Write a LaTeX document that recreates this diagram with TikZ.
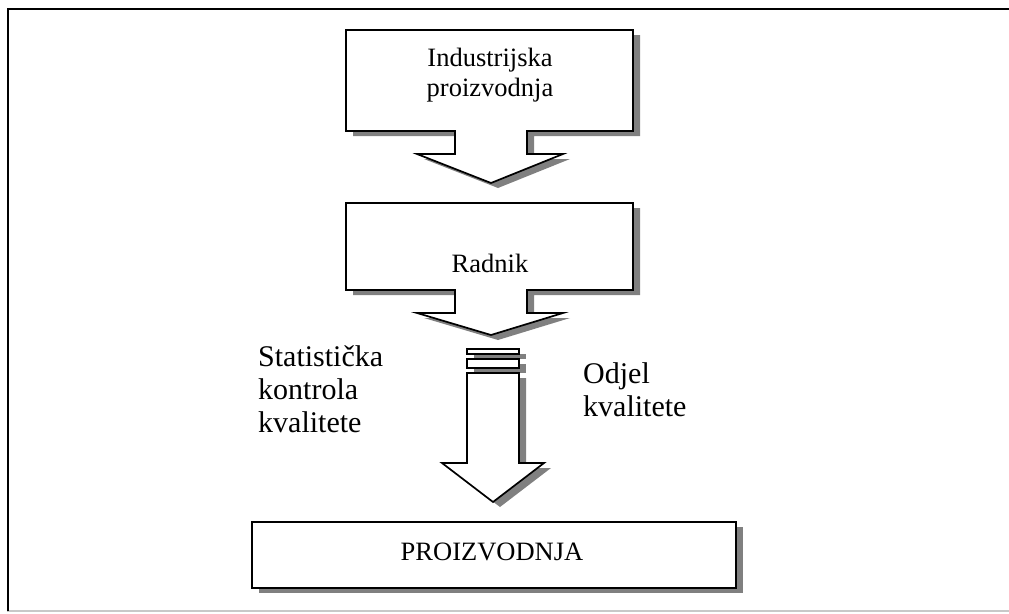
\documentclass[tikz,border=0pt]{standalone}
\usepackage{fontspec}
\setmainfont{Liberation Serif}
\definecolor{shadowgray}{HTML}{808080}
\definecolor{framegray}{HTML}{C8C8C8}
\begin{document}
\begin{tikzpicture}[x=1pt,y=-1pt,
  shapeline/.style={draw=black,line width=1.7pt,fill=white,line join=miter},
  shadowfill/.style={fill=shadowgray,draw=none},
  txt/.style={inner sep=0pt,font=\fontsize{26.5}{30}\selectfont},
  lbl/.style={inner sep=0pt,font=\fontsize{30}{33}\selectfont,anchor=base west,align=left}]
\useasboundingbox (0,0) rectangle (1009,613);
% frame
\draw[framegray,line width=1.5pt] (7,611) -- (1009,611);
\draw[black,line width=2pt] (8,611) -- (8,9) -- (1009,9);
% callout 1
\begin{scope}[shift={(7,5)}]
\fill[shadowfill] (346,30) -- (633,30) -- (633,131) -- (527,131) -- (527,154) -- (563,154) -- (491,183) -- (417,154) -- (455,154) -- (455,131) -- (346,131) -- cycle;
\end{scope}
\draw[shapeline] (346,30) -- (633,30) -- (633,131) -- (527,131) -- (527,154) -- (563,154) -- (491,183) -- (417,154) -- (455,154) -- (455,131) -- (346,131) -- cycle;
% callout 2
\begin{scope}[shift={(7,5)}]
\fill[shadowfill] (346,203) -- (633,203) -- (633,290) -- (527,290) -- (527,313) -- (563,313) -- (491,335) -- (417,313) -- (455,313) -- (455,290) -- (346,290) -- cycle;
\end{scope}
\draw[shapeline] (346,203) -- (633,203) -- (633,290) -- (527,290) -- (527,313) -- (563,313) -- (491,335) -- (417,313) -- (455,313) -- (455,290) -- (346,290) -- cycle;
% striped arrow
\begin{scope}[shift={(7,5)}]
\fill[shadowfill] (467,349) rectangle (519,354);
\fill[shadowfill] (467,359) rectangle (519,368);
\fill[shadowfill] (467,373) -- (519,373) -- (519,463) -- (544,463) -- (493,502) -- (442,463) -- (467,463) -- cycle;
\end{scope}
\draw[shapeline] (467,349) rectangle (519,354);
\draw[shapeline] (467,359) rectangle (519,368);
\draw[shapeline] (467,373) -- (519,373) -- (519,463) -- (544,463) -- (493,502) -- (442,463) -- (467,463) -- cycle;
% bottom box
\fill[shadowfill] (259,527) rectangle (743,593);
\draw[shapeline] (252,522) rectangle (736,588);
% texts
\node[txt,align=center,anchor=base] (t1) at (490,96) {Industrijska\\proizvodnja};
\node[txt,anchor=base] (t2) at (490,272) {Radnik};
\node[txt,anchor=base] (t3) at (492,560) {PROIZVODNJA};
\node[lbl] (l1) at (258,432) {Statistička\\kontrola\\kvalitete};
\node[lbl] (l2) at (583,416) {Odjel\\kvalitete};
\end{tikzpicture}
\end{document}
